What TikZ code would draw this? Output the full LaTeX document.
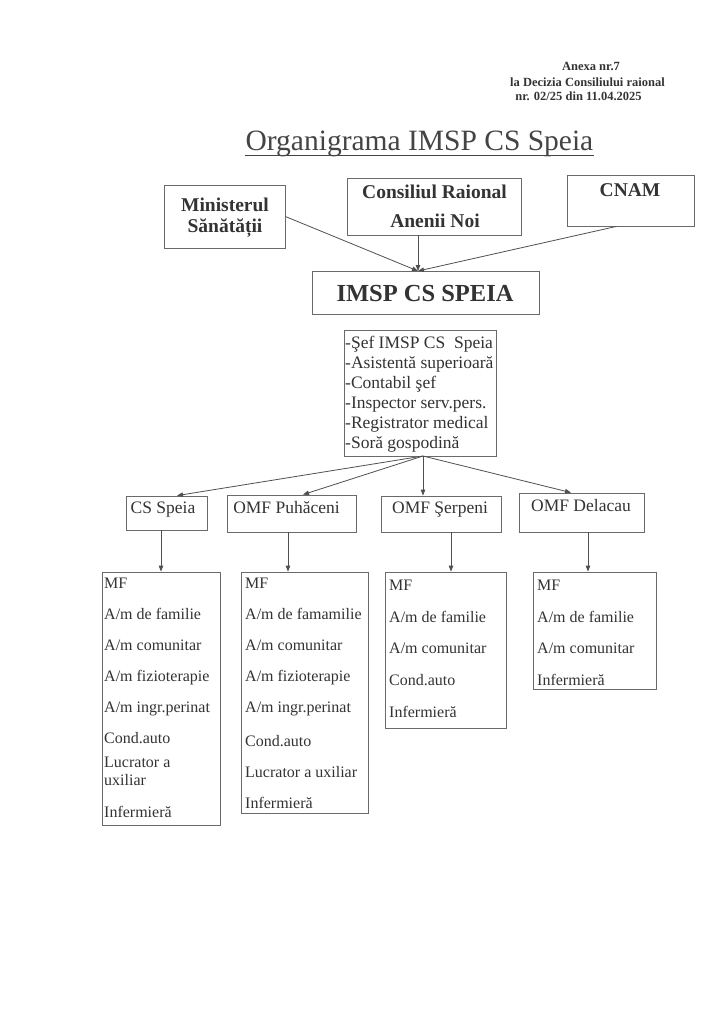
\documentclass[tikz,border=0pt]{standalone}
\usepackage{fontspec}
\setmainfont{Liberation Serif}
\usetikzlibrary{arrows.meta}
\definecolor{ink}{HTML}{333333}
\definecolor{titlec}{HTML}{444444}
\definecolor{linec}{HTML}{505050}
\definecolor{boxc}{HTML}{6a6a6a}
\begin{document}
\begin{tikzpicture}[x=1pt,y=-1pt,
  box/.style={draw=boxc, line width=0.8pt, inner sep=0pt, rectangle},
  txt/.style={inner sep=0pt, text=ink, anchor=base},
  ltxt/.style={inner sep=0pt, text=ink, anchor=base west, font=\fontsize{16}{18}\selectfont},
  hdr/.style={txt, font=\fontsize{12.5}{14}\selectfont\bfseries},
  topt/.style={txt, font=\fontsize{19.5}{22}\selectfont\bfseries},
  lvl/.style={txt, font=\fontsize{17.5}{20}\selectfont},
  stf/.style={inner sep=0pt, text=ink, anchor=base west, font=\fontsize{17.5}{20}\selectfont},
  conn/.style={draw=linec, line width=0.8pt},
  arr/.style={conn, -{Triangle[length=6pt,width=4.5pt]}}
]
\useasboundingbox (0,0) rectangle (724,1024);
\fill[white] (0,0) rectangle (724,1024);

% header
\node[hdr] (h1) at (591,71) {Anexa nr.7};
\node[hdr] (h2) at (587.5,86.5) {la Decizia Consiliului raional};
\node[hdr] (h3) at (578.5,100.5) {nr. 02/25 din 11.04.2025};

% title
\node[txt, text=titlec, font=\fontsize{29.5}{34}\selectfont] (title) at (419.5,151) {Organigrama IMSP CS Speia};
\draw[titlec, line width=1pt] ([yshift=-5pt]title.base west) -- ([yshift=-5pt]title.base east);

% top boxes
\node[box, minimum width=121pt, minimum height=63pt] (min) at (224.5,216.5) {};
\node[topt] (mint1) at (225,211.5) {Ministerul};
\node[topt] (mint2) at (225,232.5) {Sănătății};

\node[box, minimum width=174pt, minimum height=57pt] (cons) at (434,206.5) {};
\node[topt] (const1) at (434.5,199) {Consiliul Raional};
\node[topt] (const2) at (435,228) {Anenii Noi};

\node[box, minimum width=127pt, minimum height=51pt] (cnam) at (630.5,200.5) {};
\node[topt] (cnamt) at (630,197) {CNAM};

\node[box, minimum width=227pt, minimum height=43pt] (imsp) at (425.5,292.5) {};
\node[txt, font=\fontsize{24.5}{28}\selectfont\bfseries] (imspt) at (425,301) {IMSP CS SPEIA};

\coordinate (conv) at (418,271);
\coordinate (cr) at (418,0);
\draw[arr] (min.east) -- (conv);
\draw[arr] (cons.south -| cr) -- (conv);
\draw[arr] ([xshift=-14pt]cnam.south) -- (conv);

% staff box
\node[box, minimum width=152pt, minimum height=126pt] (staff) at (420,393) {};
\node[stf] (s1) at (345,348) {-Şef IMSP CS\ \ Speia};
\node[stf] (s2) at (345,368) {-Asistentă superioară};
\node[stf] (s3) at (345,388) {-Contabil şef};
\node[stf] (s4) at (345,408) {-Inspector serv.pers.};
\node[stf] (s5) at (345,428) {-Registrator medical};
\node[stf] (s6) at (345,448) {-Soră gospodină};

% level 2 boxes
\node[box, minimum width=81pt, minimum height=34pt] (cs) at (166.5,513) {};
\node[lvl] (cst) at (163,513) {CS Speia};
\node[box, minimum width=129pt, minimum height=37pt] (puh) at (291.5,513.5) {};
\node[lvl] (puht) at (286.5,513) {OMF Puhăceni};
\node[box, minimum width=120pt, minimum height=36pt] (ser) at (441,514) {};
\node[lvl] (sert) at (440,513) {OMF Şerpeni};
\node[box, minimum width=125pt, minimum height=39pt] (del) at (581.5,512.5) {};
\node[lvl] (delt) at (581,511) {OMF Delacau};

\coordinate (src) at (423,456);
\draw[arr] (src) -- ([xshift=10.5pt]cs.north);
\draw[arr] (src) -- ([xshift=11.5pt]puh.north);
\draw[arr] (src) -- (ser.north -| src);
\draw[arr] (src) -- ([xshift=-10.5pt]del.north);

% list boxes
\node[box, minimum width=118pt, minimum height=253pt] (l1) at (161,698.5) {};
\node[box, minimum width=127pt, minimum height=241pt] (l2) at (304.5,692.5) {};
\node[box, minimum width=121pt, minimum height=156pt] (l3) at (445.5,650) {};
\node[box, minimum width=123pt, minimum height=117pt] (l4) at (594.5,630.5) {};

\coordinate (v1) at (161,0);
\coordinate (v2) at (288,0);
\coordinate (v3) at (451,0);
\coordinate (v4) at (588,0);
\draw[arr] (cs.south -| v1) -- (l1.north -| v1);
\draw[arr] (puh.south -| v2) -- (l2.north -| v2);
\draw[arr] (ser.south -| v3) -- (l3.north -| v3);
\draw[arr] (del.south -| v4) -- (l4.north -| v4);

% list texts
\node[ltxt] (a1) at (104,588) {MF};
\node[ltxt] (a2) at (104,619) {A/m de familie};
\node[ltxt] (a3) at (104,650) {A/m comunitar};
\node[ltxt] (a4) at (104,681) {A/m fizioterapie};
\node[ltxt] (a5) at (104,712) {A/m ingr.perinat};
\node[ltxt] (a6) at (104,743) {Cond.auto};
\node[ltxt] (a7) at (104,767) {Lucrator a};
\node[ltxt] (a8) at (104,785) {uxiliar};
\node[ltxt] (a9) at (104,817) {Infermieră};

\node[ltxt] (b1) at (245,588) {MF};
\node[ltxt] (b2) at (245,619) {A/m de famamilie};
\node[ltxt] (b3) at (245,650) {A/m comunitar};
\node[ltxt] (b4) at (245,681) {A/m fizioterapie};
\node[ltxt] (b5) at (245,712) {A/m ingr.perinat};
\node[ltxt] (b6) at (245,746) {Cond.auto};
\node[ltxt] (b7) at (245,777) {Lucrator a uxiliar};
\node[ltxt] (b8) at (245,808) {Infermieră};

\node[ltxt] (c1) at (389,590) {MF};
\node[ltxt] (c2) at (389,622) {A/m de familie};
\node[ltxt] (c3) at (389,653) {A/m comunitar};
\node[ltxt] (c4) at (389,685) {Cond.auto};
\node[ltxt] (c5) at (389,717) {Infermieră};

\node[ltxt] (d1) at (537,590) {MF};
\node[ltxt] (d2) at (537,622) {A/m de familie};
\node[ltxt] (d3) at (537,653) {A/m comunitar};
\node[ltxt] (d4) at (537,685) {Infermieră};
\end{tikzpicture}
\end{document}
